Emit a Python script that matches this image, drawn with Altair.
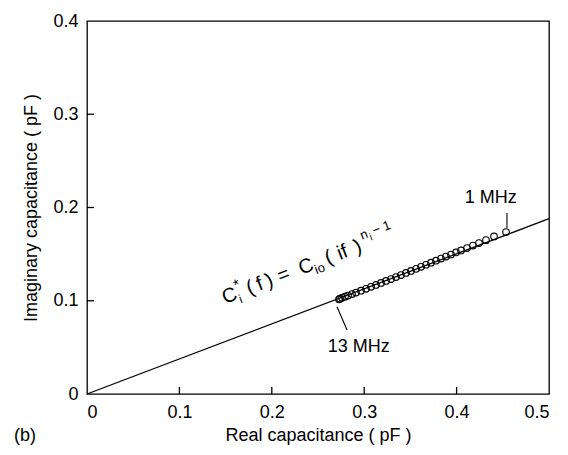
import altair as alt
import pandas as pd

# ---- data ----
real_cap = [0.4535, 0.4405, 0.4318, 0.4242, 0.4177, 0.4113, 0.4048, 0.3994, 0.3939,
            0.3885, 0.3831, 0.3777, 0.3723, 0.3669, 0.3615, 0.3561, 0.3506, 0.3452,
            0.3398, 0.3344, 0.3290, 0.3236, 0.3182, 0.3128, 0.3074, 0.3019, 0.2965,
            0.2911, 0.2868, 0.2825, 0.2792, 0.2760, 0.2738, 0.2727]
imag_cap = [0.1737, 0.1690, 0.1650, 0.1618, 0.1592, 0.1565, 0.1540, 0.1518, 0.1496,
            0.1474, 0.1452, 0.1430, 0.1408, 0.1386, 0.1364, 0.1342, 0.1320, 0.1298,
            0.1276, 0.1254, 0.1233, 0.1212, 0.1191, 0.1170, 0.1149, 0.1128, 0.1108,
            0.1088, 0.1072, 0.1056, 0.1044, 0.1032, 0.1022, 0.1015]
fit_x = [0.0, 0.5]
fit_y = [0.0, 0.188]

x_ticks = [0, 0.1, 0.2, 0.3, 0.4, 0.5]
y_ticks = [0, 0.1, 0.2, 0.3, 0.4]
x_inner_ticks = [0.1, 0.2, 0.3, 0.4]
y_inner_ticks = [0.1, 0.2, 0.3]

label_text = ["1 MHz", "13 MHz"]
label_x = [0.437, 0.294]
label_y = [0.205, 0.045]

leader_x = [0.4545, 0.2706]
leader_x2 = [0.4545, 0.2814]
leader_y = [0.1780, 0.0936]
leader_y2 = [0.1941, 0.0686]

eq_x = 0.1494
eq_y = 0.0965
# equation pieces: text, along-line offset, perpendicular offset, font size
eq_parts = [("C", 0, 0, 20), ("*", 15, -9, 15), ("i", 15, 5, 12),
            ("(\u2009f\u2009)", 26, 0, 20), ("=", 59, 0, 20), ("C", 82, 0, 20),
            ("io", 96, 5, 13), ("(", 110, 0, 20), ("if", 123, 0, 20), (")", 141, 0, 20),
            ("n", 151, -11, 13), ("i", 159, -7, 10), ("\u2212 1", 164, -11, 13)]

FONT = "Liberation Sans"
FS = 18
W, H = 462, 373
X_DOM = [0, 0.5]
Y_DOM = [0, 0.4]

pts = pd.DataFrame({"x": real_cap, "y": imag_cap})
fit = pd.DataFrame({"x": fit_x, "y": fit_y})
labels = pd.DataFrame({"t": label_text, "x": label_x, "y": label_y})
leaders = pd.DataFrame({"x": leader_x, "x2": leader_x2, "y": leader_y, "y2": leader_y2})
xt = pd.DataFrame({"v": x_inner_ticks})
yt = pd.DataFrame({"v": y_inner_ticks})

lab_expr = "datum.value == 0 ? '0' : format(datum.value, '.1f')"

xs = alt.Scale(domain=X_DOM, nice=False, zero=False)
ys = alt.Scale(domain=Y_DOM, nice=False, zero=False)

x_axis = alt.Axis(values=x_ticks, labelExpr=lab_expr, ticks=False, domain=False, grid=False,
                  labelPadding=9, labelFontSize=FS, labelFont=FONT, labelColor="black",
                  title="Real capacitance ( pF )", titleFont=FONT, titleFontSize=FS,
                  titleFontWeight="normal", titleColor="black", titlePadding=5, orient="bottom")
y_axis = alt.Axis(values=y_ticks, labelExpr=lab_expr, ticks=False, domain=False, grid=False,
                  labelPadding=9, labelFontSize=FS, labelFont=FONT, labelColor="black",
                  title="Imaginary capacitance ( pF )", titleFont=FONT, titleFontSize=FS,
                  titleFontWeight="normal", titleColor="black", titlePadding=12, orient="left")

line = alt.Chart(fit).mark_line(color="black", strokeWidth=1.3).encode(
    x=alt.X("x:Q", scale=xs, axis=x_axis),
    y=alt.Y("y:Q", scale=ys, axis=y_axis),
)
points = alt.Chart(pts).mark_point(shape="circle", filled=False, color="black",
                                   size=44, strokeWidth=1.1, opacity=1).encode(
    x=alt.X("x:Q", scale=xs), y=alt.Y("y:Q", scale=ys))
lead = alt.Chart(leaders).mark_rule(color="black", strokeWidth=1.1).encode(
    x=alt.X("x:Q", scale=xs), x2="x2:Q", y=alt.Y("y:Q", scale=ys), y2="y2:Q")
lab = alt.Chart(labels).mark_text(font=FONT, fontSize=FS, color="black",
                                  align="center", baseline="alphabetic").encode(
    x=alt.X("x:Q", scale=xs), y=alt.Y("y:Q", scale=ys), text="t:N")

# inward tick marks
xtick = alt.Chart(xt).mark_rule(color="black", strokeWidth=1.3).encode(
    x=alt.X("v:Q", scale=xs), y=alt.value(H), y2=alt.value(H - 7))
ytick = alt.Chart(yt).mark_rule(color="black", strokeWidth=1.3).encode(
    y=alt.Y("v:Q", scale=ys), x=alt.value(0), x2=alt.value(7))

eq_layers = []
for txt, ddx, ddy, fs in eq_parts:
    seg = pd.DataFrame({"x": [eq_x], "y": [eq_y], "t": [txt]})
    eq_layers.append(alt.Chart(seg).mark_text(font=FONT, fontSize=fs, color="black",
                                              align="left", baseline="alphabetic",
                                              angle=339, dx=ddx, dy=ddy).encode(
        x=alt.X("x:Q", scale=xs), y=alt.Y("y:Q", scale=ys), text="t:N"))

tag = pd.DataFrame({"t": ["(b)"]})
panel_tag = alt.Chart(tag).mark_text(font=FONT, fontSize=FS, color="black",
                                     align="left", baseline="alphabetic").encode(
    x=alt.value(-73), y=alt.value(H + 47), text="t:N")

chart = alt.layer(line, points, lead, lab, xtick, ytick, *eq_layers, panel_tag).properties(
    width=W, height=H,
    autosize=alt.AutoSizeParams(type="none"),
    padding={"left": 79, "top": 13, "right": 11, "bottom": 53},
    background="white",
).configure_view(stroke="black", strokeWidth=1.3)

chart.save("out.html", embed_options={"renderer": "svg", "actions": False})
